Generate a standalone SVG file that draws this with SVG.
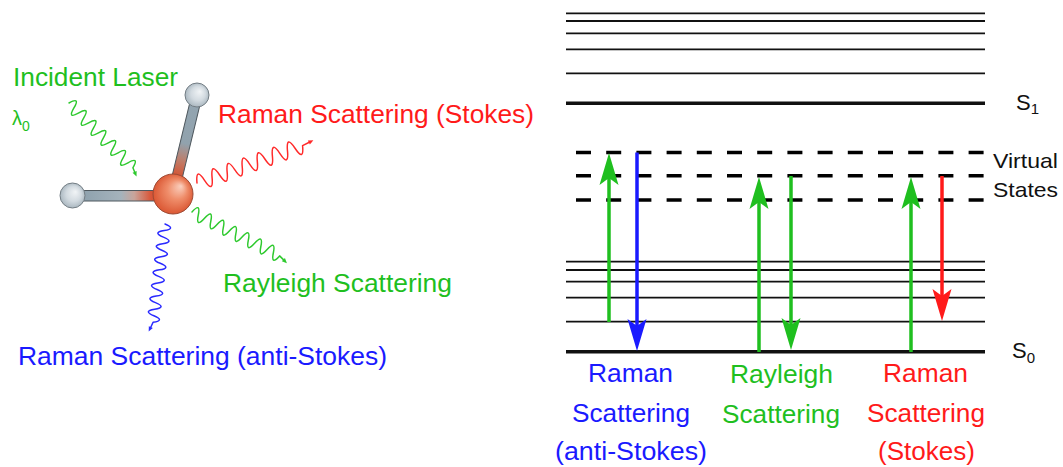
<svg xmlns="http://www.w3.org/2000/svg" width="1063" height="467" viewBox="0 0 1063 467">
  <style>
    text { font-family: "Liberation Sans", Arial, sans-serif; }
    .lbl { font-size: 25px; }
    .g { fill: #1fbf1f; }
    .r { fill: #ff1a1a; }
    .b { fill: #1a1aff; }
    .k { fill: #111; }
    .lvl { stroke: #111; stroke-width: 1.8; fill: none; }
    .lvl-main { stroke: #111; stroke-width: 3.6; fill: none; }
    .virt { stroke: #000; stroke-width: 3.5; stroke-dasharray: 15 15.2; fill: none; }
    .wave { fill: none; stroke-width: 1.5; stroke-linejoin: round; stroke-linecap: round; }
    .shaft { fill: none; stroke-width: 3.5; }
  </style>
  <defs>
    <radialGradient id="atomGray" cx="0.5" cy="0.5" r="0.55" fx="0.62" fy="0.35">
      <stop offset="0" stop-color="#f1f4f6"/>
      <stop offset="0.55" stop-color="#d2dae0"/>
      <stop offset="1" stop-color="#a3b1ba"/>
    </radialGradient>
    <radialGradient id="atomRed" cx="0.5" cy="0.5" r="0.55" fx="0.7" fy="0.3">
      <stop offset="0" stop-color="#fad0bf"/>
      <stop offset="0.45" stop-color="#ef8d6a"/>
      <stop offset="1" stop-color="#d8502c"/>
    </radialGradient>
    <linearGradient id="bondH" x1="84" y1="0" x2="158" y2="0" gradientUnits="userSpaceOnUse">
      <stop offset="0" stop-color="#8fa2ae"/>
      <stop offset="0.5" stop-color="#a5b3bc"/>
      <stop offset="0.68" stop-color="#c9a49a"/>
      <stop offset="0.9" stop-color="#d8573a"/>
      <stop offset="1" stop-color="#d24a2c"/>
    </linearGradient>
    <linearGradient id="bondV" x1="0" y1="0" x2="0" y2="100" gradientUnits="userSpaceOnUse">
      <stop offset="0" stop-color="#93a5b1"/>
      <stop offset="0.5" stop-color="#91a2ad"/>
      <stop offset="0.68" stop-color="#c07c68"/>
      <stop offset="0.85" stop-color="#d6502f"/>
      <stop offset="1" stop-color="#c9431f"/>
    </linearGradient>
    <marker id="headG" markerUnits="userSpaceOnUse" orient="auto" refX="22" refY="0" markerWidth="40" markerHeight="40" overflow="visible">
      <path d="M0,-9.5 L32,0 L0,9.5 L7,0 Z" fill="#1fbf1f"/>
    </marker>
    <marker id="headB" markerUnits="userSpaceOnUse" orient="auto" refX="22" refY="0" markerWidth="40" markerHeight="40" overflow="visible">
      <path d="M0,-9.5 L32,0 L0,9.5 L7,0 Z" fill="#1a1aff"/>
    </marker>
    <marker id="headR" markerUnits="userSpaceOnUse" orient="auto" refX="22" refY="0" markerWidth="40" markerHeight="40" overflow="visible">
      <path d="M0,-9.5 L32,0 L0,9.5 L7,0 Z" fill="#ff1a1a"/>
    </marker>
    <marker id="tipG" markerUnits="userSpaceOnUse" orient="auto" refX="1" refY="0" markerWidth="8" markerHeight="8" overflow="visible">
      <path d="M0,-2.2 L5,0 L0,2.2 Z" fill="#2ec92e"/>
    </marker>
    <marker id="tipR" markerUnits="userSpaceOnUse" orient="auto" refX="1" refY="0" markerWidth="8" markerHeight="8" overflow="visible">
      <path d="M0,-2.2 L5,0 L0,2.2 Z" fill="#ff2a2a"/>
    </marker>
    <marker id="tipB" markerUnits="userSpaceOnUse" orient="auto" refX="1" refY="0" markerWidth="8" markerHeight="8" overflow="visible">
      <path d="M0,-2.2 L5,0 L0,2.2 Z" fill="#2a2aff"/>
    </marker>
  </defs>

  <!-- photon waves around the molecule -->
  <g id="photon-waves">
    <path class="wave" stroke="#2ec92e" marker-end="url(#tipG)" transform="translate(69,103) rotate(45.4)"
          d="M0,0 q3.5,-13 7,0 t7,0 7,0 7,0 7,0 7,0 7,0 7,0 7,0 7,0 7,0 7,0 7,0 l5,2"/>
    <path class="wave" stroke="#ff2a2a" marker-end="url(#tipR)" transform="translate(197,183) rotate(-19.5)"
          d="M0,0 q4,-16 8,0 t8,0 8,0 8,0 8,0 8,0 8,0 8,0 8,0 8,0 8,0 8,0 8,0 8,0 l8,-1"/>
    <path class="wave" stroke="#2ec92e" marker-end="url(#tipG)" transform="translate(192,212) rotate(26.6)"
          d="M0,0 q3.5,-13 7,0 t7,0 7,0 7,0 7,0 7,0 7,0 7,0 7,0 7,0 7,0 7,0 7,0 7,0 l6,2"/>
    <path class="wave" stroke="#2a2aff" marker-end="url(#tipB)" transform="translate(165,224) rotate(96.9)"
          d="M0,0 q3.3,-12 6.6,0 t6.6,0 6.6,0 6.6,0 6.6,0 6.6,0 6.6,0 6.6,0 6.6,0 6.6,0 6.6,0 6.6,0 6.6,0 6.6,0 6.6,0 l6,2"/>
  </g>

  <!-- molecule: two light atoms bonded to a central atom -->
  <g id="molecule">
    <rect x="80" y="190.5" width="80" height="10.5" fill="url(#bondH)" stroke="#4f585e" stroke-width="1"/>
    <g transform="translate(197,95) rotate(13.6)">
      <rect x="-5.2" y="0" width="10.4" height="98" fill="url(#bondV)" stroke="#4f585e" stroke-width="1"/>
    </g>
    <circle cx="72.5" cy="195.5" r="12.5" fill="url(#atomGray)" stroke="#737d84" stroke-width="1"/>
    <circle cx="197" cy="95" r="12" fill="url(#atomGray)" stroke="#737d84" stroke-width="1"/>
    <circle cx="173" cy="194" r="20" fill="url(#atomRed)" stroke="#9c4a35" stroke-width="1"/>
  </g>

  <!-- labels around the molecule -->
  <g id="label-incident">
    <text class="lbl g" x="13" y="86" textLength="165" lengthAdjust="spacingAndGlyphs">Incident Laser</text>
    <text class="g" x="12" y="125" font-size="20">λ<tspan font-size="14" dy="6">0</tspan></text>
  </g>
  <g id="label-stokes">
    <text class="lbl r" x="218" y="122.5" textLength="316" lengthAdjust="spacingAndGlyphs">Raman Scattering (Stokes)</text>
  </g>
  <g id="label-rayleigh">
    <text class="lbl g" x="223" y="292" textLength="229" lengthAdjust="spacingAndGlyphs">Rayleigh Scattering</text>
  </g>
  <g id="label-antistokes">
    <text class="lbl b" x="18" y="365" textLength="369" lengthAdjust="spacingAndGlyphs">Raman Scattering (anti-Stokes)</text>
  </g>

  <!-- energy levels -->
  <g id="level-s1">
    <line class="lvl" x1="566" y1="13.3" x2="985" y2="13.3"/>
    <line class="lvl" x1="566" y1="21" x2="985" y2="21"/>
    <line class="lvl" x1="566" y1="33.3" x2="985" y2="33.3"/>
    <line class="lvl" x1="566" y1="49.3" x2="985" y2="49.3"/>
    <line class="lvl" x1="566" y1="73.3" x2="985" y2="73.3"/>
    <line class="lvl-main" x1="566" y1="103.3" x2="985" y2="103.3"/>
    <text class="k" x="1016" y="110" font-size="22">S<tspan font-size="15" dy="4">1</tspan></text>
  </g>
  <g id="virtual-states">
    <line class="virt" x1="576" y1="152.5" x2="985" y2="152.5"/>
    <line class="virt" x1="576" y1="175.7" x2="985" y2="175.7"/>
    <line class="virt" x1="576" y1="200" x2="985" y2="200"/>
    <text class="k" x="993" y="168" font-size="21" textLength="65" lengthAdjust="spacingAndGlyphs">Virtual</text>
    <text class="k" x="993" y="197" font-size="21" textLength="65" lengthAdjust="spacingAndGlyphs">States</text>
  </g>
  <g id="level-s0">
    <line class="lvl" x1="566" y1="261.7" x2="985" y2="261.7"/>
    <line class="lvl" x1="566" y1="270" x2="985" y2="270"/>
    <line class="lvl" x1="566" y1="281.7" x2="985" y2="281.7"/>
    <line class="lvl" x1="566" y1="297.7" x2="985" y2="297.7"/>
    <line class="lvl" x1="566" y1="321.7" x2="985" y2="321.7"/>
    <line class="lvl-main" x1="566" y1="351.7" x2="985" y2="351.7"/>
    <text class="k" x="1012" y="358" font-size="22">S<tspan font-size="15" dy="5">0</tspan></text>
  </g>

  <!-- transitions -->
  <g id="transitions">
    <line class="shaft" stroke="#1fbf1f" x1="609" y1="322" x2="609" y2="163" marker-end="url(#headG)"/>
    <line class="shaft" stroke="#1a1aff" x1="637" y1="152.5" x2="637" y2="341" marker-end="url(#headB)"/>
    <line class="shaft" stroke="#1fbf1f" x1="759" y1="352" x2="759" y2="187" marker-end="url(#headG)"/>
    <line class="shaft" stroke="#1fbf1f" x1="791" y1="176" x2="791" y2="340" marker-end="url(#headG)"/>
    <line class="shaft" stroke="#1fbf1f" x1="911" y1="352" x2="911" y2="187" marker-end="url(#headG)"/>
    <line class="shaft" stroke="#ff1a1a" x1="942" y1="176" x2="942" y2="311" marker-end="url(#headR)"/>
  </g>

  <!-- transition labels -->
  <g id="caption-antistokes" text-anchor="middle">
    <text class="lbl b" x="630.5" y="382" textLength="85" lengthAdjust="spacingAndGlyphs">Raman</text>
    <text class="lbl b" x="631" y="422" textLength="118" lengthAdjust="spacingAndGlyphs">Scattering</text>
    <text class="lbl b" x="631" y="460" textLength="152" lengthAdjust="spacingAndGlyphs">(anti-Stokes)</text>
  </g>
  <g id="caption-rayleigh" text-anchor="middle">
    <text class="lbl g" x="781.5" y="383" textLength="103" lengthAdjust="spacingAndGlyphs">Rayleigh</text>
    <text class="lbl g" x="781" y="423" textLength="118" lengthAdjust="spacingAndGlyphs">Scattering</text>
  </g>
  <g id="caption-stokes" text-anchor="middle">
    <text class="lbl r" x="925.5" y="382" textLength="85" lengthAdjust="spacingAndGlyphs">Raman</text>
    <text class="lbl r" x="926" y="422" textLength="118" lengthAdjust="spacingAndGlyphs">Scattering</text>
    <text class="lbl r" x="926.5" y="460" textLength="97" lengthAdjust="spacingAndGlyphs">(Stokes)</text>
  </g>
</svg>
